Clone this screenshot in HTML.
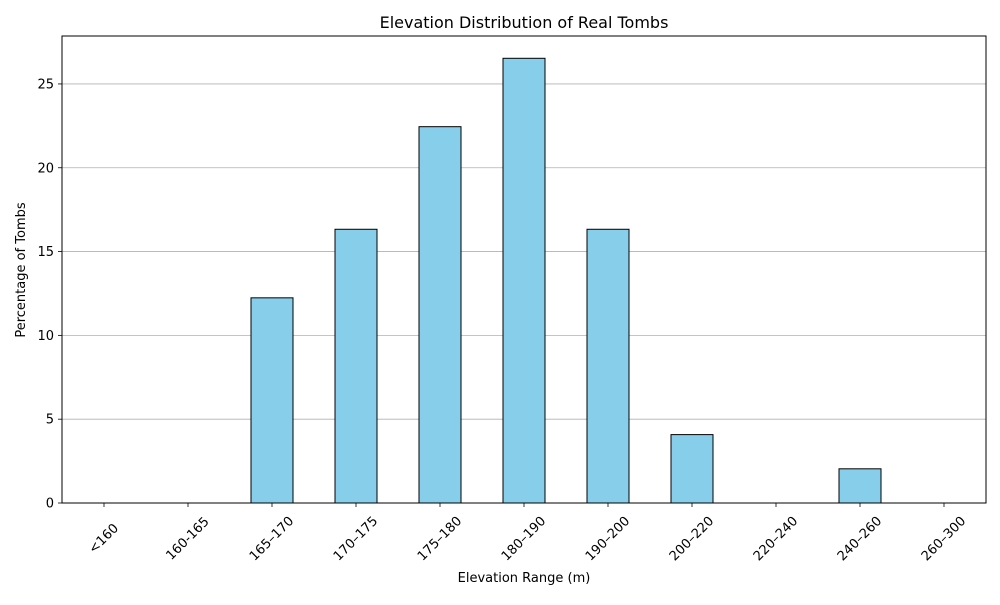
<!DOCTYPE html>
<html><head><meta charset="utf-8"><style>
body{margin:0;background:#fff;}
svg text{font-family:"DejaVu Sans","Liberation Sans",sans-serif;fill:#000;}
</style></head><body>
<svg id="chart" width="1000" height="600" xmlns="http://www.w3.org/2000/svg">
<rect width="1000" height="600" fill="#fff"/>
<g id="grid"></g><g id="bars"></g><g id="axes"></g>
<text x="524" y="28" font-size="16" text-anchor="middle">Elevation Distribution of Real Tombs</text>
<text x="524" y="582" font-size="13" text-anchor="middle">Elevation Range (m)</text>
<text transform="translate(25,270) rotate(-90)" font-size="13" text-anchor="middle">Percentage of Tombs</text>
</svg>
<script>
const categories=["<160","160-165","165–170","170–175","175–180","180–190","190–200","200–220","220–240","240–260","260–300"];
const values=[0,0,12.24,16.33,22.45,26.53,16.33,4.08,0,2.04,0];
const yTicks=[0,5,10,15,20,25];
const L=62,R=986,T=36,B=503,yMax=27.86;
const ns="http://www.w3.org/2000/svg";
const step=(R-L)/categories.length;
const x=i=>L+step*(i+0.5);
const y=v=>B-(v/yMax)*(B-T);
function mk(tag,attrs,parent){const e=document.createElementNS(ns,tag);for(const k in attrs)e.setAttribute(k,attrs[k]);parent.appendChild(e);return e;}
const grid=document.getElementById('grid'),bars=document.getElementById('bars'),axes=document.getElementById('axes');
yTicks.forEach(t=>{
  const g=mk('line',{x1:L,x2:R,y1:y(t),y2:y(t),stroke:'#b0b0b0','stroke-width':0.8},grid);
  
  
  mk('line',{x1:L-4,x2:L,y1:y(t),y2:y(t),stroke:'#000','stroke-width':0.8},axes);
  const tx=mk('text',{x:L-8,y:y(t)+4.5,'font-size':13,'text-anchor':'end'},axes);
  tx.textContent=t;
  
  
});
const bw=step*0.5;
values.forEach((v,i)=>{
  const r=mk('rect',{x:x(i)-bw/2,y:y(v),width:bw,height:B-y(v),fill:'#87ceeb',stroke:v===0?'#999':'#000','stroke-width':1},bars);
  
  
  mk('line',{x1:x(i),x2:x(i),y1:B,y2:B+4,stroke:'#000','stroke-width':0.8},axes);
  const tx=mk('text',{transform:`translate(${x(i)},${B+36}) rotate(-45)`,'font-size':13,'text-anchor':'middle','dominant-baseline':'central'},axes);
  tx.textContent=categories[i];
  
  
});
const fr=mk('rect',{x:L,y:T,width:R-L,height:B-T,fill:'none',stroke:'#000','stroke-width':1},axes);


</script>
</body></html>
